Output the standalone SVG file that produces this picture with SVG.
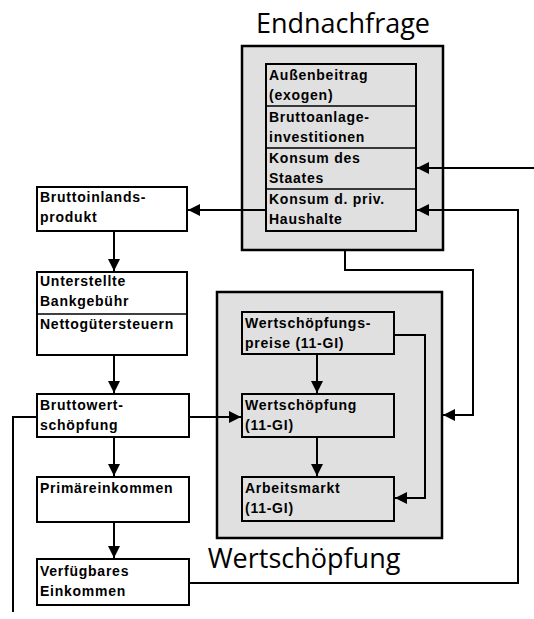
<svg xmlns="http://www.w3.org/2000/svg" width="534" height="619" viewBox="0 0 534 619">
  <defs>
    <marker id="arrow" markerUnits="userSpaceOnUse" markerWidth="13" markerHeight="12" refX="12" refY="6" orient="auto">
      <path d="M0,0 L12,6 L0,12 Z" fill="#000"/>
    </marker>
    <style>
      .frame { fill: #e0e0e0; stroke: #000; stroke-width: 2.5; }
      .cell { fill: #e0e0e0; stroke: #000; stroke-width: 2; }
      .box { fill: #fff; stroke: #000; stroke-width: 2; }
      .rule { stroke: #000; stroke-width: 1.5; }
      .t { font-family: "Liberation Sans", Arial, sans-serif; font-size: 14px; font-weight: bold; letter-spacing: 0.75px; fill: #000; }
      .title { font-family: "Open Sans", "Noto Sans", sans-serif; font-size: 27px; fill: #000; }
      .wire { fill: none; stroke: #000; stroke-width: 2; }
    </style>
  </defs>
  <rect width="534" height="619" fill="#fff"/>

  <!-- final demand block -->
  <g id="endnachfrage">
    <rect class="frame" x="242" y="46" width="201" height="204"/>
    <text class="title" x="343" y="33" text-anchor="middle">Endnachfrage</text>
    <rect class="cell" x="266" y="64" width="150" height="167"/>
    <line class="rule" x1="266" y1="106" x2="416" y2="106"/>
    <line class="rule" x1="266" y1="148" x2="416" y2="148"/>
    <line class="rule" x1="266" y1="189" x2="416" y2="189"/>
  </g>
  <g id="aussenbeitrag">
    <text class="t" x="269" y="80">Außenbeitrag</text>
    <text class="t" x="269" y="100">(exogen)</text>
  </g>
  <g id="bruttoanlageinvestitionen">
    <text class="t" x="269" y="122">Bruttoanlage-</text>
    <text class="t" x="269" y="142">investitionen</text>
  </g>
  <g id="konsum-staat">
    <text class="t" x="269" y="163">Konsum des</text>
    <text class="t" x="269" y="183">Staates</text>
  </g>
  <g id="konsum-haushalte">
    <text class="t" x="269" y="204">Konsum d. priv.</text>
    <text class="t" x="269" y="224">Haushalte</text>
  </g>

  <!-- value added block -->
  <g id="wertschoepfung-block">
    <rect class="frame" x="217" y="292" width="225" height="246"/>
    <text class="title" x="304" y="568" text-anchor="middle">Wertschöpfung</text>
  </g>
  <g id="wertschoepfungspreise">
    <rect class="cell" x="242" y="312" width="152" height="42"/>
    <text class="t" x="245" y="328">Wertschöpfungs-</text>
    <text class="t" x="245" y="348">preise (11-GI)</text>
  </g>
  <g id="wertschoepfung">
    <rect class="cell" x="242" y="394" width="152" height="43"/>
    <text class="t" x="245" y="410">Wertschöpfung</text>
    <text class="t" x="245" y="430">(11-GI)</text>
  </g>
  <g id="arbeitsmarkt">
    <rect class="cell" x="242" y="477" width="152" height="44"/>
    <text class="t" x="245" y="493">Arbeitsmarkt</text>
    <text class="t" x="245" y="513">(11-GI)</text>
  </g>

  <!-- accounting chain -->
  <g id="bip">
    <rect class="box" x="37" y="187" width="150" height="44"/>
    <text class="t" x="40" y="202">Bruttoinlands-</text>
    <text class="t" x="40" y="222">produkt</text>
  </g>
  <g id="bankgebuehr-steuern">
    <rect class="box" x="37" y="272" width="150" height="83"/>
    <line class="rule" x1="37" y1="314" x2="187" y2="314"/>
    <text class="t" x="40" y="286">Unterstellte</text>
    <text class="t" x="40" y="306">Bankgebühr</text>
    <text class="t" x="40" y="329">Nettogütersteuern</text>
  </g>
  <g id="bruttowertschoepfung">
    <rect class="box" x="37" y="394" width="152" height="43"/>
    <text class="t" x="40" y="410">Bruttowert-</text>
    <text class="t" x="40" y="430">schöpfung</text>
  </g>
  <g id="primaereinkommen">
    <rect class="box" x="37" y="477" width="152" height="45"/>
    <text class="t" x="40" y="493">Primäreinkommen</text>
  </g>
  <g id="verfuegbares-einkommen">
    <rect class="box" x="37" y="559" width="152" height="46"/>
    <text class="t" x="40" y="576">Verfügbares</text>
    <text class="t" x="40" y="596">Einkommen</text>
  </g>

  <g id="connectors">
    <!-- final demand to GDP -->
    <path class="wire" d="M266,210 H188" marker-end="url(#arrow)"/>
    <!-- exogenous input into government consumption -->
    <path class="wire" d="M534,168 H417" marker-end="url(#arrow)"/>
    <!-- disposable income to private consumption -->
    <path class="wire" d="M189,583 H518 V210 H417" marker-end="url(#arrow)"/>
    <!-- final demand to value added block -->
    <path class="wire" d="M345,250 V270 H473 V415 H443" marker-end="url(#arrow)"/>
    <!-- chain on the left -->
    <path class="wire" d="M114,231 V271" marker-end="url(#arrow)"/>
    <path class="wire" d="M114,355 V393" marker-end="url(#arrow)"/>
    <path class="wire" d="M114,437 V476" marker-end="url(#arrow)"/>
    <path class="wire" d="M114,522 V558" marker-end="url(#arrow)"/>
    <path class="wire" d="M189,417 H241" marker-end="url(#arrow)"/>
    <path class="wire" d="M37,417 H13 V612"/>
    <!-- inside value added block -->
    <path class="wire" d="M317,354 V393" marker-end="url(#arrow)"/>
    <path class="wire" d="M317,437 V476" marker-end="url(#arrow)"/>
    <path class="wire" d="M394,335 H425 V498 H395" marker-end="url(#arrow)"/>
  </g>
</svg>
